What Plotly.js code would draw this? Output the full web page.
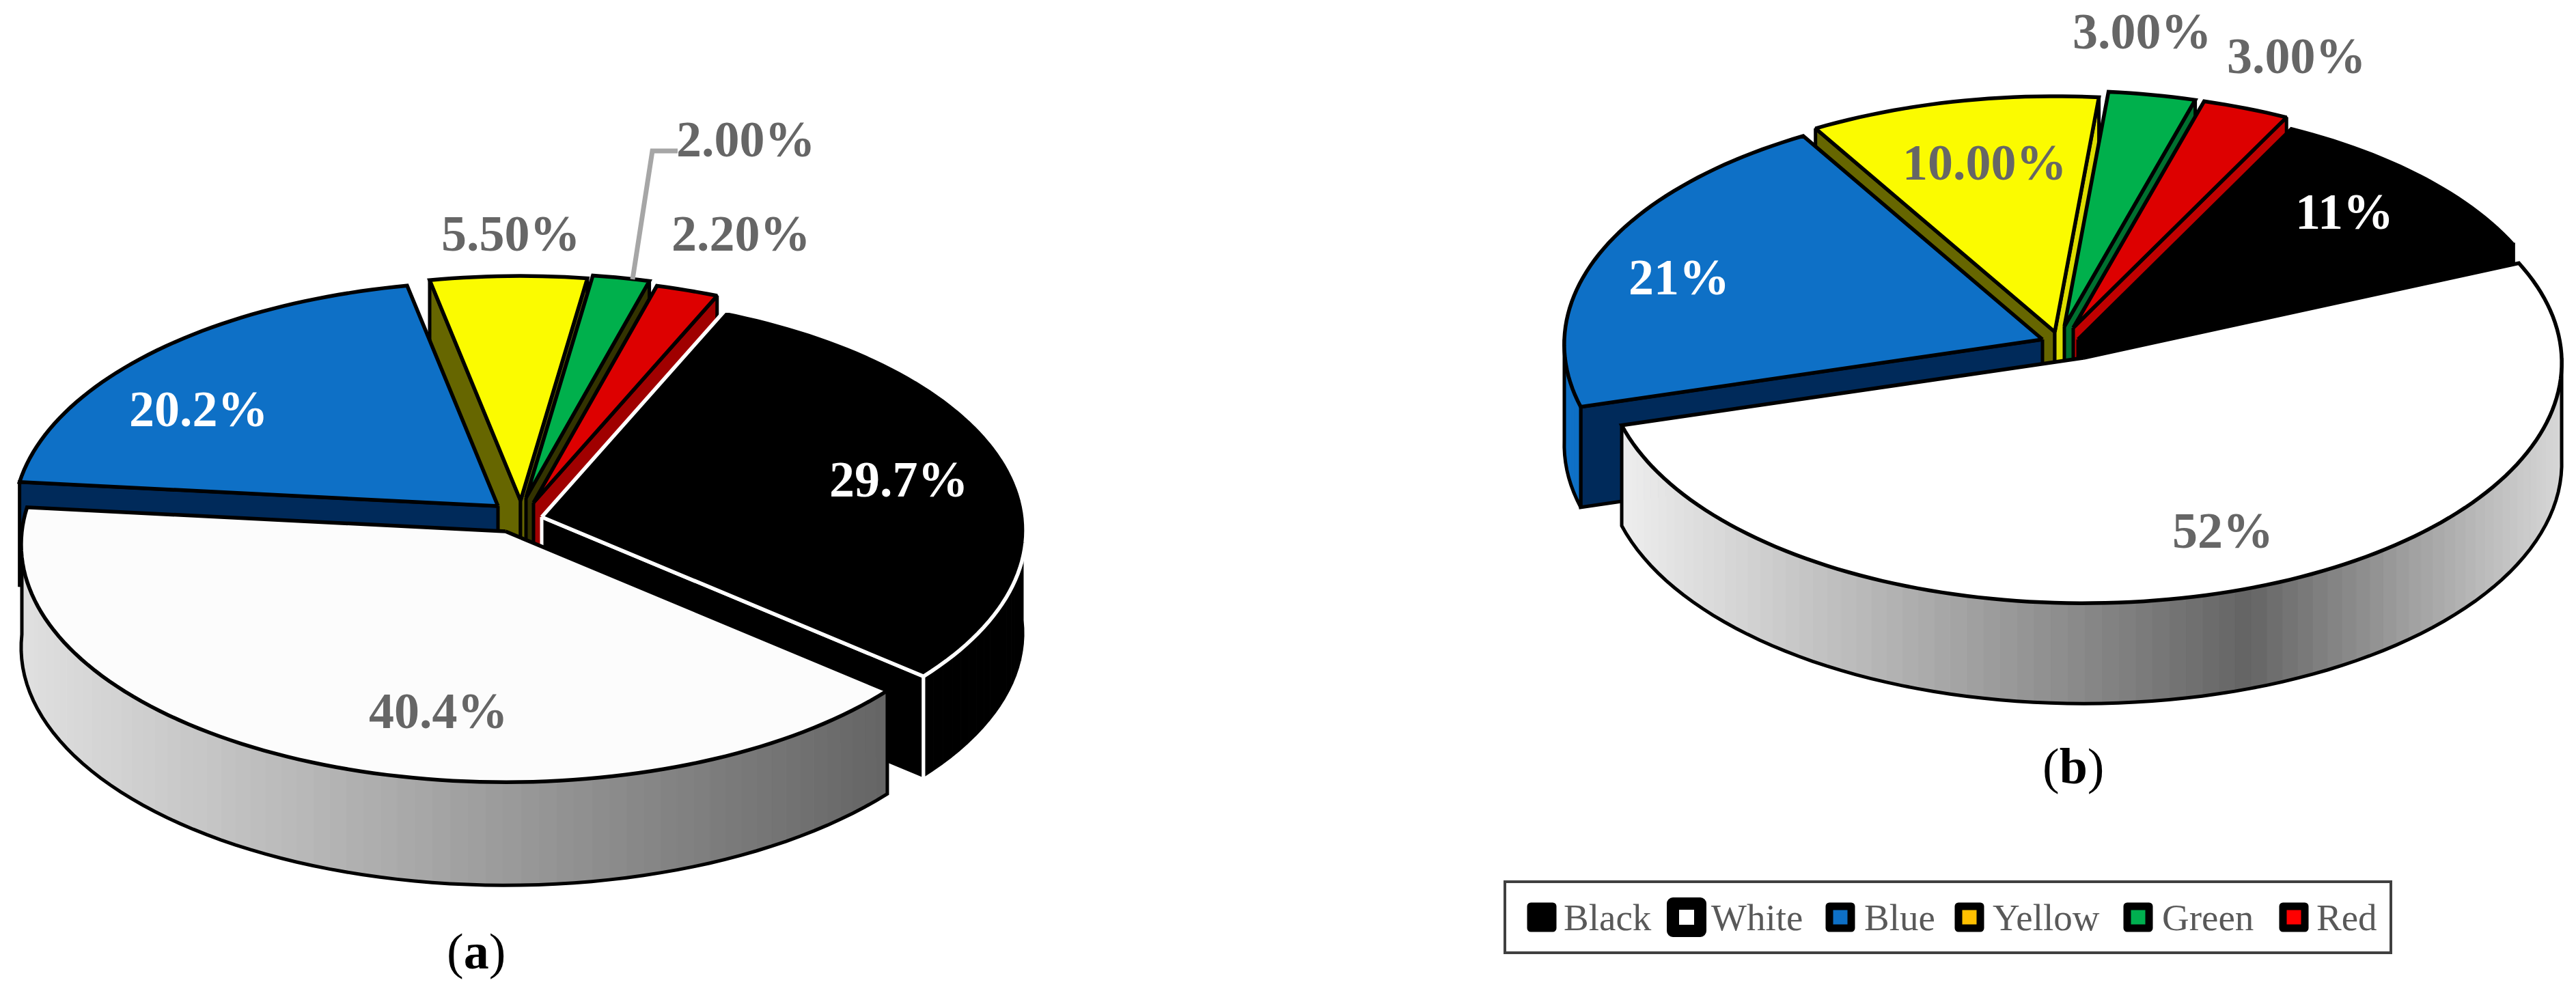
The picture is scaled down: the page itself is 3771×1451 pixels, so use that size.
<!DOCTYPE html>
<html>
<head>
<meta charset="utf-8">
<script src="https://cdn.plot.ly/plotly-3.0.1.min.js"></script>
<style>
  html, body { margin: 0; padding: 0; background: #fff; overflow: hidden; }
  /* legend keys have rounded black frames */
  #chart .points path { stroke-linejoin: round; }
</style>
</head>
<body>
<div id="chart" style="width:3771px;height:1451px;"></div>
<script>
// categories and values
var categories = ["Black", "White", "Blue", "Yellow", "Green", "Red"];
var valuesA = [29.7, 40.4, 20.2, 5.5, 2.0, 2.2];
var valuesB = [11, 52, 21, 10, 3, 3];
var labelsA = ["29.7%", "40.4%", "20.2%", "5.50%", "2.00%", "2.20%"];
var labelsB = ["11%", "52%", "21%", "10.00%", "3.00%", "3.00%"];

// colours, one per category
var topColorsA = ["#000000", "#FCFCFC", "#0E70C6", "#FBFB00", "#00B04C", "#DD0000"];
var topColorsB = ["#000000", "#FFFFFF", "#0E70C6", "#FBFB00", "#00B04C", "#DD0000"];
var legendColors = ["#000000", "#FFFFFF", "#0E70C6", "#FFC000", "#00B050", "#FF0000"];
var labelColors = ["#FFFFFF", "#666666", "#FFFFFF", "#666666", "#666666", "#666666"];

// the pie shape on the page, in page pixels
var pieA = {
  start: 23.5, rx: 708, ry: 347, persp: 0.055, depth: 151,
  values: valuesA, colors: topColorsA,
  apex: [[793, 757], [740, 778], [729, 741], [762, 733], [770, 729], [781, 736]],
  outline: ["#FFFFFF", "#000000", "#000000", "#000000", "#000000", "#000000"],
  startWall: ["#000000", "#FFFFFF", "#002A5A", "#666600", "#007030", "#A00000"],
  endWall: ["#000000", "#FFFFFF", "#002A5A", "#666600", "#333300", "#A00000"],
  ramp: [[22, 225], [1300, 100]]
};
var pieB = {
  start: 27, rx: 700, ry: 352, persp: 0.02, depth: 147,
  values: valuesB, colors: topColorsB,
  apex: [[3042, 497], [3050, 524], [2990, 497], [3008, 486], [3022, 478], [3035, 480]],
  outline: ["#000000", "#000000", "#000000", "#000000", "#000000", "#000000"],
  startWall: ["#000000", "#FFFFFF", "#002A5A", "#666600", "#007030", "#C00000"],
  endWall: ["#000000", "#FFFFFF", "#002A5A", "#DDDD00", "#007030", "#C00000"],
  ramp: [[2374, 238], [3290, 100], [3747, 215]]
};
// far slices first so the near ones cover them
var drawOrder = [3, 4, 5, 0, 2, 1];

var labelPosA = [[1316, 702], [642, 1041], [291, 599], [748, 342], [1092, 204], [1085, 342]];
var labelPosB = [[3432, 310], [3254, 777], [2458, 406], [2905, 238], [3136, 46], [3362, 82]];

var traces = [];

function rimPoint(pie, apex, deg) {
  var rad = deg * Math.PI / 180;
  var u = Math.sin(rad), v = Math.cos(rad);
  var s = 1 / (1 + pie.persp * v);
  return [apex[0] + pie.rx * u * s, apex[1] - pie.ry * v * s];
}

function addPoly(xs, ys, fill, line, width) {
  traces.push({
    x: xs, y: ys, type: "scatter", mode: "lines",
    fill: fill ? "toself" : "none", fillcolor: fill || undefined,
    line: { color: line, width: width, simplify: false },
    hoverinfo: "skip", showlegend: false
  });
}

function grey(pie, x) {
  var r = pie.ramp;
  var g = r[r.length - 1][1];
  for (var i = 0; i < r.length - 1; i++) {
    if (x <= r[i + 1][0]) {
      var t = Math.max(0, (x - r[i][0]) / (r[i + 1][0] - r[i][0]));
      g = r[i][1] + (r[i + 1][1] - r[i][1]) * t;
      break;
    }
  }
  g = Math.round(g);
  return "rgb(" + g + "," + g + "," + g + ")";
}

function cutWall(pie, apex, deg, color, outline) {
  var p = rimPoint(pie, apex, deg);
  var d = pie.depth;
  addPoly([apex[0], p[0], p[0], apex[0], apex[0]],
          [apex[1], p[1], p[1] + d, apex[1] + d, apex[1]], color, outline, 5);
}

function drawSlice(pie, i, a0, a1) {
  var apex = pie.apex[i];
  var d = pie.depth;
  var edge = pie.outline[i];
  // only the cut faces turned to the viewer
  if (Math.sin(a0 * Math.PI / 180) < 0) cutWall(pie, apex, a0, pie.startWall[i], edge);
  if (Math.sin(a1 * Math.PI / 180) > 0) cutWall(pie, apex, a1, pie.endWall[i], edge);

  // outer wall, in short strips so the white slice can carry a grey ramp
  var from = Math.max(a0, 90), to = Math.min(a1, 270);
  if (to > from) {
    var n = Math.ceil((to - from) / 2);
    for (var k = 0; k < n; k++) {
      var p = rimPoint(pie, apex, from + (to - from) * k / n);
      var q = rimPoint(pie, apex, from + (to - from) * (k + 1) / n);
      var c = i === 1 ? grey(pie, (p[0] + q[0]) / 2) : pie.colors[i];
      addPoly([p[0], q[0], q[0], p[0], p[0]],
              [p[1], q[1], q[1] + d, p[1] + d, p[1]], c, c, 1);
    }
    var bx = [], by = [];
    var s0 = rimPoint(pie, apex, from);
    bx.push(s0[0]); by.push(s0[1]);
    for (var k2 = 0; k2 <= n; k2++) {
      var b = rimPoint(pie, apex, from + (to - from) * k2 / n);
      bx.push(b[0]); by.push(b[1] + d);
    }
    var s1 = rimPoint(pie, apex, to);
    bx.push(s1[0]); by.push(s1[1]);
    addPoly(bx, by, null, edge, 5);
  }

  // top face
  var xs = [apex[0]], ys = [apex[1]];
  var steps = Math.ceil((a1 - a0) / 1.5);
  for (var j = 0; j <= steps; j++) {
    var t = rimPoint(pie, apex, a0 + (a1 - a0) * j / steps);
    xs.push(t[0]); ys.push(t[1]);
  }
  xs.push(apex[0]); ys.push(apex[1]);
  addPoly(xs, ys, pie.colors[i], edge, 5.5);
}

function drawPie(pie) {
  var total = pie.values.reduce(function (a, b) { return a + b; }, 0);
  var angles = [];
  var run = pie.start;
  pie.values.forEach(function (v) {
    var next = run + v / total * 360;
    angles.push([run, next]);
    run = next;
  });
  drawOrder.forEach(function (i) {
    drawSlice(pie, i, angles[i][0], angles[i][1]);
  });
}

drawPie(pieA);
drawPie(pieB);

// leader line of the 2.00% label
traces.push({
  x: [992, 955, 926], y: [221, 221, 409], type: "scatter", mode: "lines",
  line: { color: "#A6A6A6", width: 7 }, hoverinfo: "skip", showlegend: false
});

// legend drawn by hand, native legend markers cannot get this big
var legendMarkX = [2257, 2469, 2694, 2883, 3130, 3358];
var legendTextX = [2287, 2503, 2727, 2915, 3163, 3389];
var legendY = 1343;
categories.forEach(function (name, i) {
  var big = name === "White";
  traces.push({
    x: [legendMarkX[i]], y: [legendY], name: name, type: "scatter", mode: "markers",
    marker: { symbol: "square", size: big ? 40 : 32, color: legendColors[i],
              line: { color: "#000000", width: big ? 18 : 11 } },
    hoverinfo: "name", showlegend: false
  });
});

var annotations = [];
function addText(x, y, text, color, size, anchor) {
  annotations.push({
    x: x, y: y, xref: "x", yref: "y", text: text, showarrow: false,
    xanchor: anchor, yanchor: "middle",
    font: { family: "Liberation Serif", size: size, color: color }
  });
}
labelsA.forEach(function (t, i) {
  addText(labelPosA[i][0], labelPosA[i][1], "<b>" + t + "</b>", labelColors[i], 74, "center");
});
labelsB.forEach(function (t, i) {
  addText(labelPosB[i][0], labelPosB[i][1], "<b>" + t + "</b>", labelColors[i], 74, "center");
});
addText(697, 1393, "(<b>a</b>)", "#000000", 74, "center");
addText(3035, 1122, "(<b>b</b>)", "#000000", 74, "center");
categories.forEach(function (name, i) {
  addText(legendTextX[i], legendY, name, "#595959", 55, "left");
});

var layout = {
  width: 3771, height: 1451,
  margin: { l: 0, r: 0, t: 0, b: 0 },
  paper_bgcolor: "#FFFFFF", plot_bgcolor: "#FFFFFF",
  xaxis: { range: [0, 3771], visible: false, fixedrange: true },
  yaxis: { range: [1451, 0], visible: false, fixedrange: true },
  showlegend: false,
  annotations: annotations,
  shapes: [{
    type: "rect", xref: "x", yref: "y", x0: 2203, x1: 3500, y0: 1291, y1: 1395,
    line: { color: "#404040", width: 4 }, fillcolor: "rgba(0,0,0,0)", layer: "below"
  }]
};

Plotly.newPlot("chart", traces, layout, { displayModeBar: false, responsive: false });
</script>
</body>
</html>
